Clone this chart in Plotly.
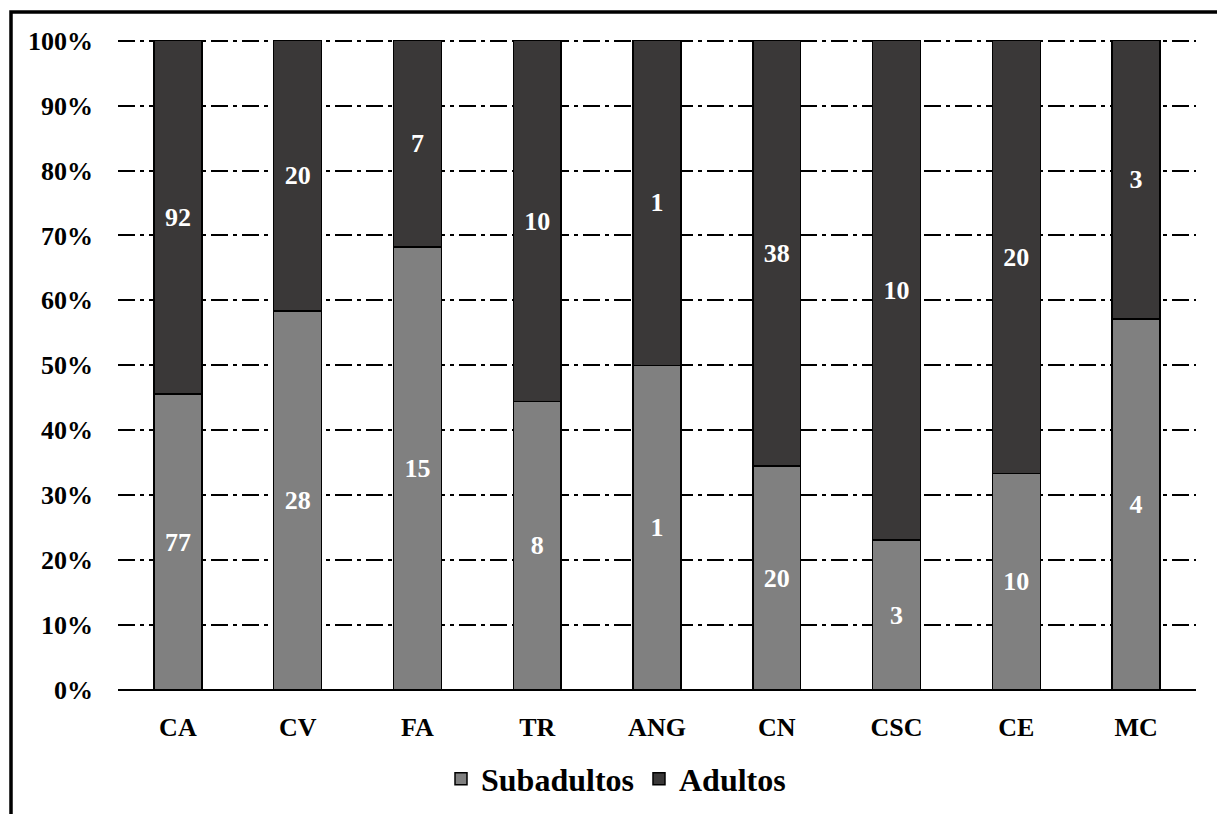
import plotly.graph_objects as go

# Group codes and counts per age class
categories = ["CA", "CV", "FA", "TR", "ANG", "CN", "CSC", "CE", "MC"]
subadultos = [77, 28, 15, 8, 1, 20, 3, 10, 4]
adultos = [92, 20, 7, 10, 1, 38, 10, 20, 3]
y_ticks = list(range(0, 101, 10))
y_tick_labels = [f"{v}%" for v in y_ticks]

FONT = "Liberation Serif"
Y_TOP = 100.25

fig = go.Figure()
fig.add_trace(go.Bar(
    name="Subadultos", x=categories, y=subadultos, text=subadultos,
    marker=dict(color="#808080", line=dict(color="#000000", width=1.5)),
    textposition="inside", insidetextanchor="middle", textangle=0,
    textfont=dict(family=FONT, size=26, color="white", weight="bold"),
    constraintext="none",
))
fig.add_trace(go.Bar(
    name="Adultos", x=categories, y=adultos, text=adultos,
    marker=dict(color="#3a3838", line=dict(color="#000000", width=1.5)),
    textposition="inside", insidetextanchor="middle", textangle=0,
    textfont=dict(family=FONT, size=26, color="white", weight="bold"),
    constraintext="none",
))

# Plot-area edges in pixels
L, R, B = 118, 1196, 690
T = 41 - (Y_TOP - 100) * (B - 41) / 100


def px_x(p):
    return (p - L) / (R - L)


def px_y(p):
    return (B - p) / (B - T)


# Outer frame (left and top edges)
fig.add_shape(
    type="path", xref="paper", yref="paper",
    path=f"M {px_x(11)},{px_y(820)} L {px_x(11)},{px_y(12.5)} L {px_x(1225)},{px_y(12.5)}",
    line=dict(color="black", width=3.5),
)

fig.update_layout(
    width=1217, height=814,
    margin=dict(l=L, r=1217 - R, t=T, b=814 - B, autoexpand=False),
    barmode="stack", barnorm="percent", bargap=0.6,
    plot_bgcolor="white", paper_bgcolor="white",
    font=dict(family=FONT, size=26, color="black", weight="bold"),
    showlegend=True,
    legend=dict(
        orientation="h", x=px_x(441), xanchor="left", y=px_y(779), yanchor="middle",
        font=dict(family=FONT, size=32, color="black", weight="bold"),
        traceorder="normal", itemclick=False,
    ),
)
fig.update_xaxes(
    showline=False, showgrid=False, ticks="", automargin=False,
    ticklabelstandoff=19,
    tickfont=dict(family=FONT, size=26, color="black", weight="bold"),
)
fig.update_yaxes(
    range=[0, Y_TOP], tickvals=y_ticks, ticktext=y_tick_labels, automargin=False,
    showgrid=True, gridcolor="black", gridwidth=1.5, griddash="17px,5px,4px,5px",
    zeroline=True, zerolinecolor="black", zerolinewidth=2,
    showline=False, ticks="", ticklabelstandoff=24,
    tickfont=dict(family=FONT, size=26, color="black", weight="bold"),
)

fig.write_html("out.html")
